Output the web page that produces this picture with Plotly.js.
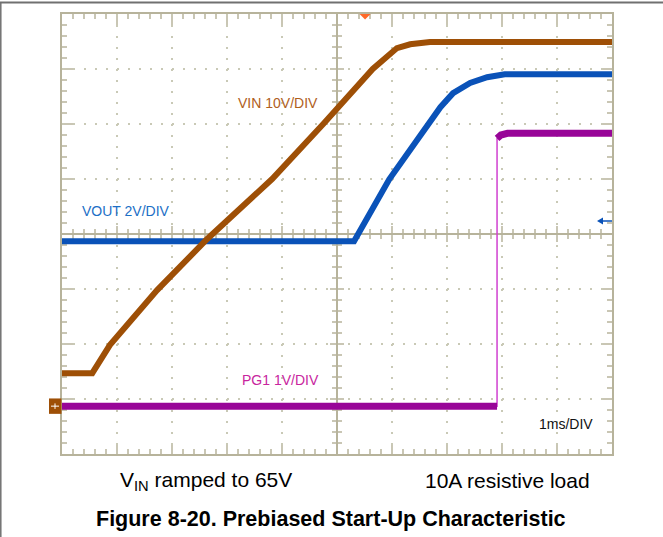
<!DOCTYPE html>
<html>
<head>
<meta charset="utf-8">
<script src="https://cdn.plot.ly/plotly-3.0.1.min.js"></script>
<style>html,body{margin:0;padding:0;background:#fff;}#chart{width:663px;height:537px;}</style>
</head>
<body>
<div id="chart"></div>
<script>
// ---- data read from the scope capture (time in ms from left edge, volts) ----
const vinTime  = [0, 0.55, 0.87, 1.73, 2.64, 3.82, 4.75, 5.65, 6.09, 6.33, 6.69, 10];
const vinVolt  = [6.0, 6.0, 11.1, 21.1, 30.4, 41.3, 51.3, 61.3, 65.1, 65.8, 66.2, 66.2];
const voutTime = [0, 5.31, 5.95, 6.64, 6.88, 7.11, 7.42, 7.73, 8.05, 10];
const voutVolt = [6.0, 6.0, 8.25, 10.25, 10.87, 11.38, 11.75, 11.96, 12.07, 12.07];
const pgTime   = [0, 7.91, 7.91, 7.98, 8.1, 10];
const pgVolt   = [0, 0, 4.87, 4.93, 4.96, 4.96];
const channelScale = {vin: 10, vout: 2, pg: 1};   // V/DIV
const groundDiv = -3.13;                          // ground level in divisions
const labels = {vin: 'VIN 10V/DIV', vout: 'VOUT 2V/DIV', pg: 'PG1 1V/DIV', time: '1ms/DIV'};

const toX = t => t.map(v => v - 5);
const toY = (v, s) => v.map(a => a / s + groundDiv);

const gridC = '#c9c9b6', axC = '#b7b39b';
const cBrown = '#9e4f06', cBlue = '#0a52b8', cPurple = '#980598';

// PG1 flats (thick) with the fast edge broken out
const pgThickX = [], pgThickY = [];
const pgX = toX(pgTime), pgY = toY(pgVolt, channelScale.pg);
for (let i = 0; i < pgX.length; i++) {
  if (i > 0 && pgX[i] === pgX[i-1]) { pgThickX.push(null); pgThickY.push(null); }
  pgThickX.push(pgX[i]); pgThickY.push(pgY[i]);
}

const traces = [
  {x: toX(voutTime), y: toY(voutVolt, channelScale.vout), mode: 'lines', line: {color: cBlue, width: 6}, hoverinfo: 'skip'},
  {x: toX(vinTime), y: toY(vinVolt, channelScale.vin), mode: 'lines', line: {color: cBrown, width: 6}, hoverinfo: 'skip'},
  {x: pgX, y: pgY, mode: 'lines', line: {color: '#d040d0', width: 1.5}, hoverinfo: 'skip'},
  {x: pgThickX, y: pgThickY, mode: 'lines', line: {color: cPurple, width: 7}, connectgaps: false, hoverinfo: 'skip'}
];

const baseAx = {
  showticklabels: false, ticks: '', showline: true, linecolor: axC, linewidth: 2, mirror: true,
  dtick: 1, tick0: 0,
  showgrid: true, gridcolor: gridC, gridwidth: 1.5, griddash: '2px,9px',
  zeroline: true, zerolinecolor: axC, zerolinewidth: 1.5, fixedrange: true
};

const L = 62, T = 14, W = 550, H = 440, DIV = 55;
const px = p => (p - L) / W, py = p => (T + H - p) / H;

// graticule tick marks (5 per division) on the frame and the centre cross
const shapes = [];
function seg(x0, y0, x1, y1) {
  shapes.push({type: 'line', xref: 'x', yref: 'y', x0: x0, y0: y0, x1: x1, y1: y1, layer: 'below',
    line: {color: axC, width: 1.5}});
}
for (let i = 1; i < 50; i++) {
  const x = -5 + i * 0.2, major = (i % 5 === 0);
  const b = (major ? 11 : 5) / DIV, c = (major ? 8 : 5) / DIV;
  seg(x, 4, x, 4 - b); seg(x, -4, x, -4 + b); seg(x, -c, x, c);
}
for (let i = 1; i < 40; i++) {
  const y = -4 + i * 0.2, major = (i % 5 === 0);
  const b = (major ? 11 : 5) / DIV, c = (major ? 7 : 5) / DIV;
  seg(-5, y, -5 + b, y); seg(5, y, 5 - b, y); seg(-c, y, c, y);
}
// image frame
shapes.push({type: 'line', xref: 'paper', yref: 'paper', x0: px(0), x1: px(663), y0: py(2.5), y1: py(2.5), line: {color: '#707070', width: 2}});
shapes.push({type: 'line', xref: 'paper', yref: 'paper', x0: px(0.8), x1: px(0.8), y0: py(2.5), y1: py(537), line: {color: '#707070', width: 1.5}});
// trigger marker
shapes.push({type: 'path', xref: 'x', yref: 'paper', path: 'M0.41,' + py(14) + ' L0.61,' + py(14) + ' L0.51,' + py(19.5) + ' Z', fillcolor: '#ff6a2a', line: {width: 0}});
// VIN ground marker
shapes.push({type: 'rect', xref: 'paper', yref: 'y', x0: px(49), x1: px(61.5), y0: groundDiv - 0.14, y1: groundDiv + 0.14, fillcolor: cBrown, line: {width: 0}});
shapes.push({type: 'line', xref: 'paper', yref: 'y', x0: px(51), x1: px(59), y0: groundDiv, y1: groundDiv, line: {color: '#fff', width: 1}});
shapes.push({type: 'line', xref: 'paper', yref: 'y', x0: px(55), x1: px(55), y0: groundDiv - 0.05, y1: groundDiv + 0.05, line: {color: '#fff', width: 1}});
// reference arrow on right
shapes.push({type: 'line', xref: 'paper', yref: 'paper', x0: px(601), x1: px(612), y0: py(221), y1: py(221), line: {color: cBlue, width: 1.5}});
shapes.push({type: 'path', xref: 'paper', yref: 'paper', path: 'M' + px(597) + ',' + py(221) + ' L' + px(603) + ',' + py(217.5) + ' L' + px(603) + ',' + py(224.5) + ' Z', fillcolor: cBlue, line: {width: 0}});

function note(x, y, text, size, color) {
  return {xref: 'paper', yref: 'paper', x: px(x), y: py(y), xanchor: 'center', yanchor: 'middle',
    text: text, showarrow: false, font: {size: size, color: color}};
}

const layout = {
  width: 663, height: 537,
  margin: {l: L, r: 663 - L - W, t: T, b: 537 - T - H, pad: 0},
  paper_bgcolor: '#fff', plot_bgcolor: '#fff',
  showlegend: false, hovermode: false,
  font: {family: 'Liberation Sans, Arial, sans-serif', color: '#000'},
  xaxis: Object.assign({}, baseAx, {range: [-5, 5]}),
  yaxis: Object.assign({}, baseAx, {range: [-4, 4]}),
  shapes: shapes,
  annotations: [
    note(278, 103, labels.vin, 14, '#b0601c'),
    note(126, 211, labels.vout, 14, '#1c6fc6'),
    note(280, 380, labels.pg, 14, '#c8259e'),
    note(565.5, 424, labels.time, 14, '#111'),
    note(205.5, 481, 'V<sub>IN</sub> ramped to 65V', 21, '#000'),
    note(507.5, 481, '10A resistive load', 21, '#000'),
    note(331, 519, '<b>Figure 8-20. Prebiased Start-Up Characteristic</b>', 21.5, '#000')
  ]
};

Plotly.newPlot('chart', traces, layout, {displayModeBar: false, staticPlot: true});
</script>
</body>
</html>
